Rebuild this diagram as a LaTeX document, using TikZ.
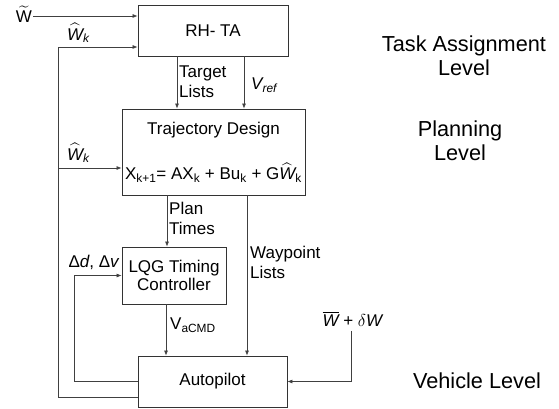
\documentclass[tikz,border=0pt]{standalone}
\usepackage{fontspec}
\setmainfont{Liberation Sans}
\usepackage{amsmath}
\usetikzlibrary{arrows.meta, positioning, calc}

\newcommand{\hatW}{$\widehat{\mbox{\itshape W}}$}

\begin{document}
\begin{tikzpicture}[
    x=1pt, y=-1pt,
    block/.style={rectangle, draw=black!80, line width=0.8pt, align=center, font=\fontsize{17}{18}\selectfont, inner sep=0pt},
    lbl/.style={anchor=west, align=left, font=\fontsize{17}{20}\selectfont, inner sep=1pt},
    level/.style={align=center, font=\fontsize{21.7}{24}\selectfont},
    sig/.style={->, draw=black!75, line width=0.7pt},
    >={Latex[length=5pt, width=4pt]}
]
\useasboundingbox (0,0) rectangle (559,409);

% Blocks
\node[block, minimum width=150pt, minimum height=51pt] (rhta) at (213,30.5) {RH- TA};
\node[block, minimum width=183pt, minimum height=86pt] (traj) at (213.5,152) {Trajectory Design\\[24pt]
    X\textsubscript{k+1}= AX\textsubscript{k} + Bu\textsubscript{k} + G\hatW\textsubscript{k}};
\node[block, minimum width=104pt, minimum height=57pt] (lqg) at (174,275.5) {LQG Timing\\Controller};
\node[block, minimum width=149pt, minimum height=51pt] (autop) at (212.5,381.5) {Autopilot};

% Level names
\node[level] (tal) at (464,56) {Task Assignment\\Level};
\node[level] (pl) at (460,141) {Planning\\Level};
\node[level] (vl) at (477,381) {Vehicle Level};

% External inputs
\node[font=\fontsize{17}{18}\selectfont, inner sep=1pt] (wtil) at (24,14) {$\widetilde{\mbox{W}}$};
\draw[sig] ([yshift=-2pt]wtil.east) -- ([yshift=-2pt]wtil.east -| rhta.west);
\node[font=\fontsize{17}{18}\selectfont, inner sep=1pt] (dist) at (353,319) {$\overline{\mbox{\itshape W}}$ + $\delta$\textit{W}};
\draw[sig] ([xshift=-2pt,yshift=-3pt]dist.south) |- (autop.east);

% Feedback of estimates
\draw[sig] ([yshift=-15.5pt]autop.west) -- ++(-79,0) coordinate (fb) |- ([yshift=-16.5pt]rhta.west);
\coordinate (trin) at ([yshift=-16pt]traj.west);
\draw[sig] (fb |- trin) -- (trin);
\node[lbl] (wk1) at (66,33) {\hatW\textsubscript{\itshape k}};
\node[lbl] (wk2) at (66,153) {\hatW\textsubscript{\itshape k}};

% Timing loop
\draw[sig] (autop.west) -- ++(-63,0) |- (lqg.west);
\node[font=\fontsize{17}{18}\selectfont, inner sep=1pt] (dd) at (94,262) {Δ\textit{d}, Δ\textit{v}};

% Vertical signals
\coordinate (tl) at ([xshift=-36pt]rhta.south);
\draw[sig] (tl) -- (tl |- traj.north);
\coordinate (vr) at ([xshift=31pt]rhta.south);
\draw[sig] (vr) -- (vr |- traj.north);
\coordinate (pt) at ([xshift=-7pt]lqg.north);
\draw[sig] (pt |- traj.south) -- (pt);
\coordinate (wp) at ([xshift=34.5pt]autop.north);
\draw[sig] (wp |- traj.south) -- (wp);
\coordinate (vc) at ([xshift=-8pt]lqg.south);
\draw[sig] (vc) -- (vc |- autop.north);

% Signal labels
\node[lbl] (tgt) at (178,82) {Target\\Lists};
\node[lbl] (vref) at (250,85) {\textit{V\textsubscript{ref}}};
\node[lbl] (plan) at (168,218) {Plan\\Times};
\node[lbl] (wpl) at (249,262) {Waypoint\\Lists};
\node[lbl] (vcmd) at (169,325) {V\textsubscript{aCMD}};

\end{tikzpicture}
\end{document}
